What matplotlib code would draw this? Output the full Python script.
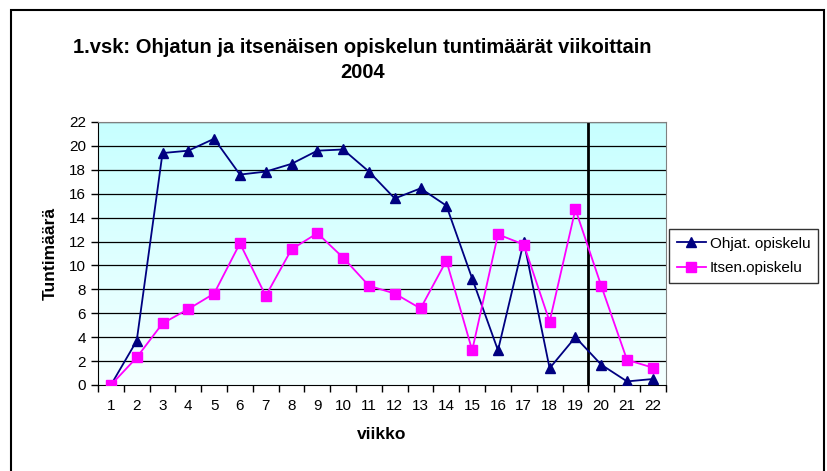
import matplotlib.pyplot as plt
import numpy as np
from matplotlib.patches import Rectangle

weeks = list(range(1, 23))
ohjat = [0, 3.7, 19.4, 19.6, 20.6, 17.6, 17.85, 18.5, 19.6, 19.7, 17.85,
         15.6, 16.45, 15.0, 8.9, 2.9, 12.0, 1.4, 4.0, 1.7, 0.3, 0.5]
itsen = [0, 2.3, 5.15, 6.35, 7.65, 11.85, 7.45, 11.35, 12.7, 10.65, 8.3,
         7.65, 6.4, 10.4, 2.9, 12.6, 11.75, 5.3, 14.7, 8.3, 2.1, 1.45]
yticks = list(range(0, 23, 2))

plt.rcParams['font.family'] = ['Liberation Sans', 'DejaVu Sans']

fig = plt.figure(figsize=(8.27, 4.71), dpi=100)
ax = fig.add_axes([0.1185, 0.1826, 0.6865, 0.5584])

# background gradient, cyan at top fading to near white
grad = np.linspace(0, 1, 256).reshape(-1, 1)
top = np.array([0.78, 1.0, 1.0])
bot = np.array([0.96, 1.0, 1.0])
img = top * (1 - grad[..., None]) + bot * grad[..., None]
ax.imshow(img, extent=[0.5, 22.5, 0, 22], aspect='auto', zorder=0)

x = np.arange(len(weeks)) + 1
for y in yticks[1:]:
    ax.axhline(y, color='black', lw=0.9, zorder=1)
ax.axvline(19.5, color='black', lw=2, zorder=2)

ax.plot(x, ohjat, color='#000080', marker='^', markersize=7.5, lw=1.3,
        label='Ohjat. opiskelu', zorder=3)
ax.plot(x, itsen, color='#ff00ff', marker='s', markersize=6.5, lw=1.3,
        label='Itsen.opiskelu', zorder=3)

ax.set_xlim(0.5, 22.5)
ax.set_ylim(0, 22)
ax.set_yticks(yticks)
ax.set_xticks(x)
ax.set_xticklabels([str(w) for w in weeks])
ax.set_xticks(np.arange(0.5, 23, 1), minor=True)
ax.tick_params(axis='x', which='major', length=0, labelsize=11, pad=10)
ax.tick_params(axis='x', which='minor', length=5, direction='out', width=1)
ax.tick_params(axis='y', length=5, direction='out', labelsize=11, width=1)

for s in ['top', 'right']:
    ax.spines[s].set_color('#808080')
ax.spines['left'].set_color('black')
ax.spines['bottom'].set_color('black')

ax.set_ylabel('Tuntimäärä', fontsize=12.5, fontweight='bold', labelpad=8)
ax.set_xlabel('viikko', fontsize=12.5, fontweight='bold', labelpad=10)

fig.text(0.438, 0.9, '1.vsk: Ohjatun ja itsenäisen opiskelun tuntimäärät viikoittain',
         ha='center', va='center', fontsize=14.5, fontweight='bold')
fig.text(0.438, 0.847, '2004', ha='center', va='center', fontsize=14.5,
         fontweight='bold')

leg = ax.legend(loc='center left', bbox_to_anchor=(0.998, 0.49), fontsize=11,
                frameon=True, fancybox=False, borderpad=0.5,
                handlelength=1.9, labelspacing=0.7, handletextpad=0.25,
                borderaxespad=0.3)
leg.get_frame().set_edgecolor('black')
leg.get_frame().set_linewidth(1)

fig.patches.append(Rectangle((11 / 827, -0.05), 813 / 827, 1.05 - 10 / 471,
                             transform=fig.transFigure, fill=False,
                             edgecolor='black', lw=1.5))

fig.savefig('out.png', dpi=100)
